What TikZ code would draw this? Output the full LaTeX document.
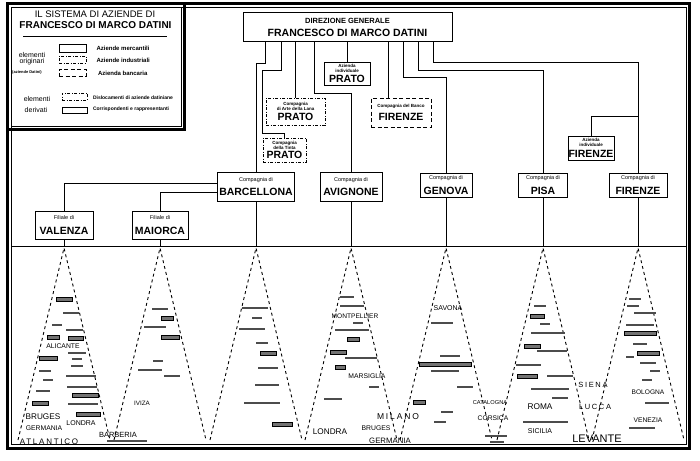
\documentclass[tikz,border=0pt]{standalone}
\usepackage{fontspec}
\setmainfont{Liberation Sans}
\newfontfamily\spaced[LetterSpace=22]{Liberation Sans}
\newcommand\fs[1]{\fontsize{#1}{#1}\selectfont}

\tikzset{
    co/.style={draw, inner sep=0pt, align=center, font={\fs{4}}},
    dd/.style={co, dash pattern=on 3pt off 1.5pt on 1pt off 1.5pt},
    ds/.style={co, dash pattern=on 4pt off 2.5pt},
    leg/.style={line width=0.9pt, dash pattern=on 3pt off 3pt},
    txt/.style={inner sep=0pt},
    blip/.style={fill=black!70, inner sep=0pt, minimum height=2pt},
    bblip/.style={draw, line width=0.7pt, fill=black!55, inner sep=0pt, minimum height=4pt}
}

\begin{document}
\begin{tikzpicture}[x=1pt, y=-1pt, line width=1pt]
        \useasboundingbox (0,0) rectangle (700,460);
        \draw[line width=3pt](7.5,4) rectangle (689.5,448.5);
        \draw(11,7.5) rectangle (686,444);
        \draw(11,7.5) rectangle (181,126);
        \draw[line width=3pt](7.5,129.5) -| (184,4);
        \draw(23,37) -- (167,37);
        \draw(11,246) -- (686,246);

        \node[txt] (tit1) at (95,14) {\fs{9.5}IL SISTEMA DI AZIENDE DI};
        \node[txt] (tit2) at (95.5,25) {\fs{10}\bfseries FRANCESCO DI MARCO DATINI};
        \node[co, minimum width=27pt, minimum height=7pt] (lg1) at (72.5,48.5) {};
        \node[dd, minimum width=27pt, minimum height=7pt] (lg2) at (72.5,59.5) {};
        \node[ds, minimum width=27pt, minimum height=7pt] (lg3) at (72.5,72.5) {};
        \node[dd, minimum width=25pt, minimum height=7pt] (lg4) at (74.5,96.5) {};
        \node[co, minimum width=25pt, minimum height=6pt] (lg5) at (74.5,110) {};
        \node[txt, anchor=west] (lb1) at (96,48.5) {\fs{6}\bfseries Aziende mercantili};
        \node[txt, anchor=west] (lb2) at (96,60) {\fs{6}\bfseries Aziende industriali};
        \node[txt, anchor=west] (lb3) at (97.5,73) {\fs{6}\bfseries Azienda bancaria};
        \node[txt, anchor=west] (lb4) at (92.5,97.5) {\fs{5}\bfseries Dislocamenti di aziende datiniane};
        \node[txt, anchor=west] (lb5) at (92.5,109.5) {\fs{5}\bfseries Corrispondenti e rappresentanti};
        \node[txt] (el1) at (32,55) {\fs{7}elementi};
        \node[txt] (el2) at (32,62) {\fs{7}originari};
        \node[txt] (el3) at (27,72) {\fs{4}\bfseries (aziende Datini)};
        \node[txt] (el4) at (37,99) {\fs{7}elementi};
        \node[txt] (el5) at (36,110) {\fs{7}derivati};

        \node[co, minimum width=209pt, minimum height=29pt] (hq) at (347.5,27.5)
            {{\fs{7.5}\bfseries DIREZIONE GENERALE}\\[4.2pt]{\fs{10.5}\bfseries FRANCESCO DI MARCO DATINI}};
        \node[co, minimum width=46pt, minimum height=23pt] (aziprato) at (347,73.5)
            {{\fs{4.5}\bfseries Azienda}\\[0.9pt]{\fs{4.5}\bfseries individuale}\\[2.5pt]{\fs{10.5}\bfseries PRATO}};
        \node[dd, minimum width=59pt, minimum height=27pt] (lana) at (295.5,111.5)
            {{\fs{4.5}\bfseries Compagnia}\\{\fs{4.5}\bfseries di Arte della Lana}\\[2.2pt]{\fs{10.5}\bfseries PRATO}};
        \node[dd, minimum width=43pt, minimum height=24pt] (tinta) at (284.5,150)
            {{\fs{4.5}\bfseries Compagnia}\\{\fs{4.5}\bfseries della Tinta}\\[1.2pt]{\fs{10.5}\bfseries PRATO}};
        \node[ds, minimum width=60pt, minimum height=29pt] (banco) at (401,112.5)
            {{\fs{4.5}\bfseries Compagnia del Banco}\\[4.3pt]{\fs{10.5}\bfseries FIRENZE}};
        \node[co, minimum width=46pt, minimum height=24pt] (azifir) at (591,148)
            {{\fs{4.5}\bfseries Azienda}\\[0.9pt]{\fs{4.5}\bfseries individuale}\\[3.5pt]{\fs{10.5}\bfseries FIRENZE}};

        \node[co, minimum width=77pt, minimum height=29pt] (barc) at (256,186.5)
            {{\fs{5.5}Compagnia di}\\[5pt]{\fs{10.5}\bfseries BARCELLONA}};
        \node[co, minimum width=62pt, minimum height=29pt] (avig) at (351,186.5)
            {{\fs{5.5}Compagnia di}\\[5pt]{\fs{10.5}\bfseries AVIGNONE}};
        \node[co, minimum width=52pt, minimum height=24pt] (gen) at (446,185)
            {{\fs{5.5}Compagnia di}\\[5.4pt]{\fs{10.5}\bfseries GENOVA}};
        \node[co, minimum width=49pt, minimum height=24pt] (pisa) at (543,185)
            {{\fs{5.5}Compagnia di}\\[5.4pt]{\fs{10.5}\bfseries PISA}};
        \node[co, minimum width=58pt, minimum height=24pt] (fir) at (638,185)
            {{\fs{5.5}Compagnia di}\\[5.4pt]{\fs{10.5}\bfseries FIRENZE}};
        \node[co, minimum width=58pt, minimum height=28pt] (val) at (64,225)
            {{\fs{5.5}Filiale di}\\[7pt]{\fs{10.5}\bfseries VALENZA}};
        \node[co, minimum width=56pt, minimum height=28pt] (mai) at (160,225)
            {{\fs{5.5}Filiale di}\\[7pt]{\fs{10.5}\bfseries MAIORCA}};

        \draw([xshift=-82pt]hq.south) -- ++(0,21) -| (barc);
        \draw([xshift=-66.5pt]hq.south) -- ++(0,28) -- ++(-19,0) -- ++(0,63) -| (tinta);
        \draw(lana.north |- hq.south) -- (lana);
        \draw([xshift=-33.5pt]hq.south) -- ++(0,51) -| (avig);
        \draw(aziprato.north |- hq.south) -- (aziprato);
        \draw([xshift=40.5pt]hq.south) -- ([xshift=-13pt]banco.north);
        \draw([xshift=55.5pt]hq.south) -- ++(0,35) -| (gen);
        \draw([xshift=70.5pt]hq.south) -- ++(0,28) -| (pisa);
        \draw([xshift=85.5pt]hq.south) -- ++(0,20) -| (fir);
        \draw([yshift=56pt]fir.north) -| (azifir);
        \draw([yshift=3.5pt]barc.west) -| (val);
        \draw([yshift=-5.5pt]barc.west) -| (mai);

        \foreach \b/\x in {val/64,mai/160,barc/256,avig/351,gen/446,pisa/543,fir/638}{
            \draw(\b) -- (\x,246);
            \draw[leg](\x-46,440) -- (\x,248) -- (\x+46,440);
        }

        \foreach \x/\y/\w [count=\i] in {71/313/16,57/325/10,74/330/17,77/353/18,77/359/10,77/366/12,45/371/12,48/380/10,81/376/30,43/391/14,82/387/30,83/404/30,
            160/309/16,155/327/22,158/361/10,150/370/24,172/376/16,127/441/40,
            255/308/26,257/318/10,252/329/26,262/343/12,268/368/20,267/385/24,262/403/36,
            347/297/14,352/306/24,358/323/10,352/330/34,361/358/32,374/387/10,333/399/18,
            442/323/22,450/356/20,445/371/28,465/387/16,447/412/12,440/422/12,496/436/22,497/442/14,
            540/306/12,545/324/10,548/333/34,552/351/30,528/365/25,560/376/26,550/389/38,560/398/16,545/422/45,
            635/299/12,633/306/12,645/313/22,640/325/28,640/344/14,630/357/8,648/363/16,655/371/10,647/380/10,657/403/24,642/428/26}
            \node[blip, minimum width=\w pt] (b\i) at (\x,\y) {};
        \foreach \x/\y/\w [count=\i] in {64/299/16,53/337/12,76/338/15,48/358/18,85/395/26,40/403/16,88/414/24,
            167/318/12,170/337/18,268/353/16,282/424/20,353/339/12,338/352/16,340/367/10,
            445/364/52,419/402/12,537/316/14,532/346/16,527/376/20,640/333/32,648/353/22}
            \node[bblip, minimum width=\w pt] (q\i) at (\x,\y) {};

        \foreach \x/\y/\s/\t [count=\i] in {63/346/6.8/ALICANTE,43/417/8.2/BRUGES,44/428/6.8/GERMANIA,81/423/7/LONDRA,
            142/403/6.3/IVIZA,118/435/7.5/BARBERIA,355/316/6.6/MONTPELLIER,367/376/6.8/MARSIGLIA,330/432/8.2/LONDRA,
            376/428/6.8/BRUGES,390/441/7.8/GERMANIA,448/308/7/SAVONA,490/403/5.7/CATALOGNA,493/418/6.7/CORSICA,
            540/407/8.3/ROMA,540/431/7/SICILIA,597/439/11/LEVANTE,648/392/6.6/BOLOGNA,648/420/6.7/VENEZIA}
            \node[txt] (p\i) at (\x,\y) {\fs{\s}\t};
        \foreach \x/\y/\s/\t [count=\i] in {49/442/8/ATLANTICO,398/417/8.5/MILANO,593/385/7.5/SIENA,595/407/7.5/LUCCA}
            \node[txt] (s\i) at (\x,\y) {\spaced\fs{\s}\t};
    \end{tikzpicture}
\end{document}
